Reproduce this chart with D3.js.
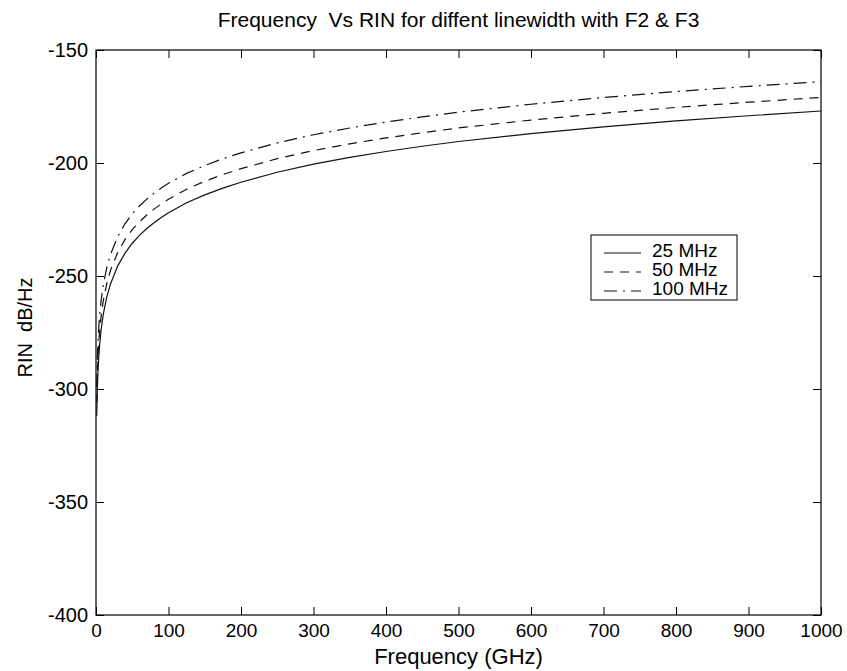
<!DOCTYPE html>
<html>
<head>
    <meta charset="utf-8">
    <style>
        body { margin: 0; background: #fff; }
        svg { font-family: 'Liberation Sans', Arial, sans-serif; }
        .axis .domain { display: none; }
        .axis .tick line { stroke: #000; }
        .axis .tick text { fill: #000; font-size: 19px; }
    </style>
</head>
<body>
<svg width="847" height="671"></svg>

<script src="https://d3js.org/d3.v7.min.js"></script>
<script>
    // frequency in GHz
    let freq = [1, 2, 3, 4, 5, 7, 10, 15, 20, 30, 40, 50, 60, 70, 80, 90, 100, 125, 150, 175,
        200, 250, 300, 350, 400, 450, 500, 600, 700, 800, 900, 1000];

    // RIN in dB/Hz
    let rin25 = [-312, -298.5, -290.5, -284.9, -280.5, -274.0, -267, -259.1, -253.5, -245.5, -239.9,
        -235.5, -232.0, -229.0, -226.4, -224.1, -222, -217.6, -214.1, -211.1, -208.5, -204.1, -200.5,
        -197.5, -194.9, -192.6, -190.5, -187.0, -184.0, -181.4, -179.1, -177];
    let rin50 = [-306, -292.5, -284.5, -278.9, -274.5, -268.0, -261, -253.1, -247.5, -239.5, -233.9,
        -229.5, -226.0, -223.0, -220.4, -218.1, -216, -211.6, -208.1, -205.1, -202.5, -198.1, -194.5,
        -191.5, -188.9, -186.6, -184.5, -181.0, -178.0, -175.4, -173.1, -171];
    let rin100 = [-299, -285.5, -277.5, -271.9, -267.5, -261.0, -254, -246.1, -240.5, -232.5, -226.9,
        -222.5, -219.0, -216.0, -213.4, -211.1, -209, -204.6, -201.1, -198.1, -195.5, -191.1, -187.5,
        -184.5, -181.9, -179.6, -177.5, -174.0, -171.0, -168.4, -166.1, -164];

    let seriesNames = ["25 MHz", "50 MHz", "100 MHz"];
    let seriesValues = [rin25, rin50, rin100];
    let dashes = [null, "9 7", "13 6 2 6"];

    let xTicks = [0, 100, 200, 300, 400, 500, 600, 700, 800, 900, 1000];
    let yTicks = [-400, -350, -300, -250, -200, -150];

    let svg = d3.select("svg");
    let margin = { top: 50, right: 26, bottom: 56, left: 96 };
    let width = 847, height = 671;

    let x = d3.scaleLinear()
        .domain([0, 1000])
        .range([margin.left, width - margin.right]);

    let y = d3.scaleLinear()
        .domain([-400, -150])
        .range([height - margin.bottom, margin.top]);

    // ticks on all four sides, pointing inward
    svg.append("g")
        .attr("class", "x axis")
        .attr("transform", `translate(0,${height - margin.bottom})`)
        .call(d3.axisBottom(x).tickValues(xTicks).tickSize(-8).tickPadding(6).tickFormat(d => String(d)))
        .selectAll(".tick text").attr("dy", "0.85em");

    svg.append("g")
        .attr("class", "x axis")
        .attr("transform", `translate(0,${margin.top})`)
        .call(d3.axisTop(x).tickValues(xTicks).tickSize(-8).tickFormat(""));

    svg.append("g")
        .attr("class", "y axis")
        .attr("transform", `translate(${margin.left},0)`)
        .call(d3.axisLeft(y).tickValues(yTicks).tickSize(-8).tickPadding(8).tickFormat(d => String(d)))
        .selectAll(".tick text").style("font-size", "20px");

    svg.append("g")
        .attr("class", "y axis")
        .attr("transform", `translate(${width - margin.right},0)`)
        .call(d3.axisRight(y).tickValues(yTicks).tickSize(-8).tickFormat(""));

    svg.append("rect")
        .attr("x", margin.left)
        .attr("y", margin.top)
        .attr("width", width - margin.left - margin.right)
        .attr("height", height - margin.top - margin.bottom)
        .attr("fill", "none")
        .attr("stroke", "#000")
        .attr("stroke-width", 1.2);

    let line = d3.line()
        .x(d => x(d[0]))
        .y(d => y(d[1]));

    seriesValues.forEach((vals, i) => {
        svg.append("path")
            .datum(freq.map((f, j) => [f, vals[j]]))
            .attr("fill", "none")
            .attr("stroke", "#111")
            .attr("stroke-width", 1.2)
            .attr("stroke-dasharray", dashes[i])
            .attr("d", line);
    });

    // legend
    let legend = svg.append("g").attr("transform", "translate(591,235)");
    legend.append("rect")
        .attr("width", 146)
        .attr("height", 65)
        .attr("fill", "#fff")
        .attr("stroke", "#000")
        .attr("stroke-width", 1);

    seriesNames.forEach((name, i) => {
        let row = legend.append("g").attr("transform", `translate(0,${15 + i * 19})`);
        row.append("line")
            .attr("x1", 13).attr("x2", 50)
            .attr("y1", 3).attr("y2", 3)
            .attr("stroke", "#111")
            .attr("stroke-width", 1.2)
            .attr("stroke-dasharray", dashes[i]);
        row.append("text")
            .attr("x", 61)
            .attr("dy", "0.35em")
            .attr("font-size", "19px")
            .text(name);
    });

    // titles
    svg.append("text")
        .attr("x", (margin.left + width - margin.right) / 2)
        .attr("y", 27)
        .attr("text-anchor", "middle")
        .attr("font-size", "21px")
        .style("white-space", "pre")
        .text("Frequency  Vs RIN for diffent linewidth with F2 & F3");

    svg.append("text")
        .attr("x", (margin.left + width - margin.right) / 2)
        .attr("y", 664)
        .attr("text-anchor", "middle")
        .attr("font-size", "22px")
        .text("Frequency (GHz)");

    svg.append("text")
        .attr("transform", `translate(32,${(margin.top + height - margin.bottom) / 2 - 5}) rotate(-90)`)
        .attr("text-anchor", "middle")
        .attr("font-size", "20px")
        .style("white-space", "pre")
        .text("RIN  dB/Hz");
</script>
</body>
</html>
